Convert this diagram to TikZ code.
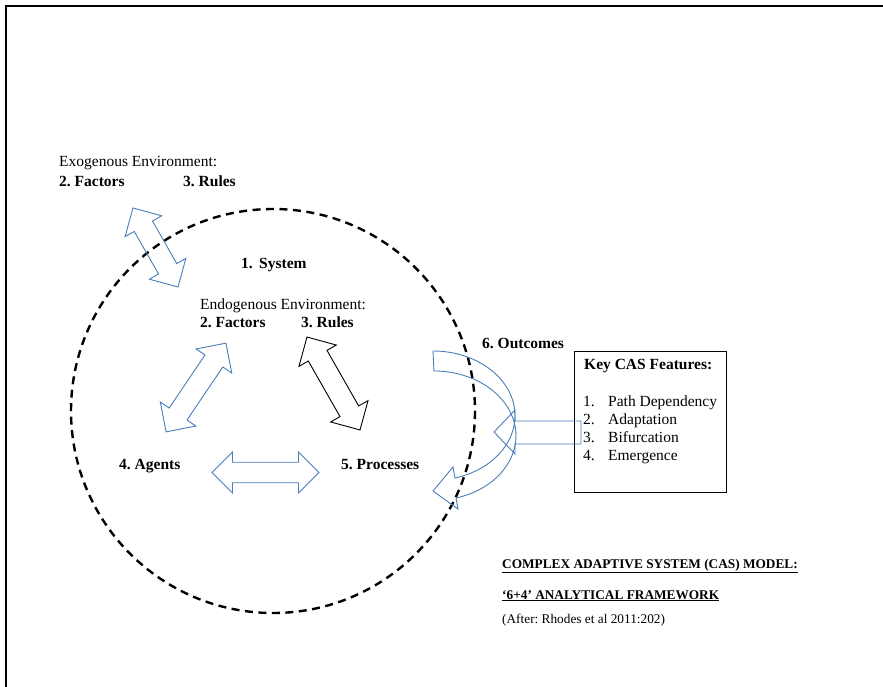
\documentclass[tikz,border=0pt]{standalone}
\usepackage{fontspec}
\setmainfont{Liberation Serif}
\definecolor{wblue}{HTML}{4A7EBB}
\frenchspacing
\newcommand\DArrow[6]{%
  \begin{scope}[shift={(#1,#2)},rotate=#3]
    \draw[#6] (-#4/2,0) -- (-#4/2+#5/2,#5/2) -- (-#4/2+#5/2,#5/4) -- (#4/2-#5/2,#5/4)
      -- (#4/2-#5/2,#5/2) -- (#4/2,0) -- (#4/2-#5/2,-#5/2) -- (#4/2-#5/2,-#5/4)
      -- (-#4/2+#5/2,-#5/4) -- (-#4/2+#5/2,-#5/2) -- cycle;
  \end{scope}}
\begin{document}
\begin{tikzpicture}[x=1pt,y=-1pt,
  lbl/.style={anchor=base west,inner sep=0pt,font=\fontsize{15.5}{18}\selectfont},
  blbl/.style={lbl,font=\fontsize{15.5}{18}\selectfont\bfseries},
  small/.style={anchor=base west,inner sep=0pt,font=\fontsize{13.3}{16}\selectfont},
  barrow/.style={draw=wblue,line width=0.9pt,line join=miter},
  karrow/.style={draw=black,line width=0.9pt,line join=miter}]
\useasboundingbox (0,0) rectangle (883,687);
% frame
\draw[line width=2pt] (6,687) -- (6,6) -- (883,6);
% dashed system circle
\draw[line width=2.4pt,dash pattern=on 8pt off 5.5pt] (273,411) circle[radius=202];
% texts
\node[lbl]  (exo)  at (59,167) {Exogenous Environment:};
\node[blbl] (exof) at (59,186) {2. Factors};
\node[blbl] (exor) at (183,186) {3. Rules};
\node[blbl] (sys)  at (241,268) {1.\hspace{6.4pt}System};
\node[lbl]  (endo) at (200,309) {Endogenous Environment:};
\node[blbl] (endf) at (200,327) {2. Factors};
\node[blbl] (endr) at (301,327) {3. Rules};
\node[blbl] (out)  at (482,348) {6. Outcomes};
\node[blbl] (agt)  at (119,469) {4. Agents};
\node[blbl] (proc) at (341,469) {5. Processes};
% key features box
\node[draw,line width=0.9pt,minimum width=152pt,minimum height=141pt,anchor=north west,inner sep=0pt] (box) at (574,351) {};
\node[blbl] (keyt) at (584,369) {Key CAS Features:};
\node[lbl] (k1) at (583,406) {\makebox[25pt][l]{1.}Path Dependency};
\node[lbl] (k2) at (583,424) {\makebox[25pt][l]{2.}Adaptation};
\node[lbl] (k3) at (583,442) {\makebox[25pt][l]{3.}Bifurcation};
\node[lbl] (k4) at (583,460) {\makebox[25pt][l]{4.}Emergence};
% bottom titles
\node[small,font=\fontsize{13.3}{16}\selectfont\bfseries] (t1) at (502,568) {\underline{COMPLEX ADAPTIVE SYSTEM (CAS) MODEL:}};
\node[small,font=\fontsize{13.3}{16}\selectfont\bfseries] (t2) at (502,599) {\underline{‘6+4’ ANALYTICAL FRAMEWORK}};
\node[small] (t3) at (502,623) {(After: Rhodes et al 2011:202)};
% double block arrows
\DArrow{155.5}{247.5}{-60.3}{91}{42}{barrow}
\DArrow{196}{387.5}{56}{107}{43}{barrow}
\DArrow{333.5}{383.5}{-60.3}{107}{43}{karrow}
\DArrow{265.5}{472.5}{0}{107}{41}{barrow}
% arrow from feature box
\draw[barrow] (494,432) -- (515,410) -- (515,421) -- (581,421) -- (581,444) -- (515,444) -- (515,454) -- cycle;
% curved outcomes arrow
\draw[barrow] (433,351) arc[start angle=-90,end angle=74.4,x radius=82,y radius=64.7]
  -- (453,467) -- (433,491) -- (458,509) -- (456,498)
  arc[start angle=74.4,end angle=-90,x radius=82,y radius=64.7] -- cycle;
\end{tikzpicture}
\end{document}
